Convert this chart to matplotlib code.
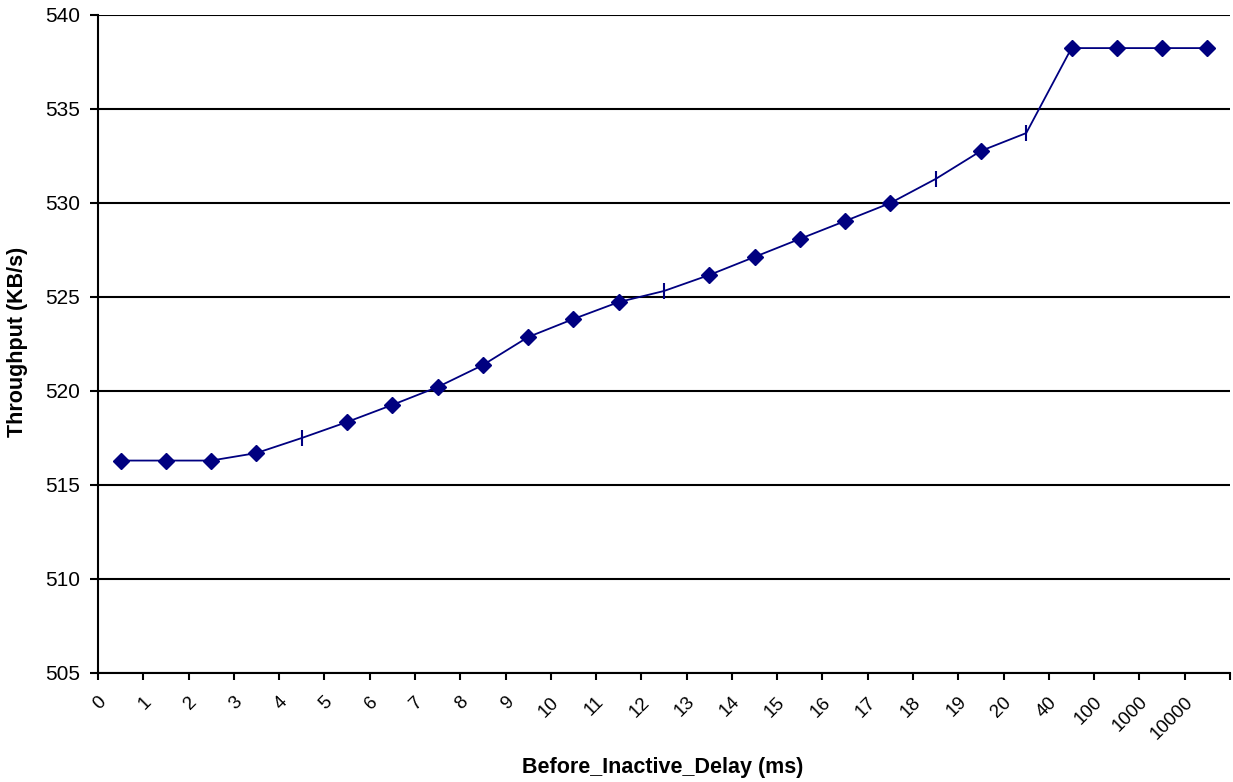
import matplotlib
matplotlib.use("Agg")
import matplotlib.pyplot as plt
from matplotlib.transforms import ScaledTranslation
import numpy as np

categories = ["0", "1", "2", "3", "4", "5", "6", "7", "8", "9", "10", "11", "12",
              "13", "14", "15", "16", "17", "18", "19", "20", "40", "100", "1000", "10000"]
throughput = [516.3, 516.3, 516.3, 516.7, 517.5, 518.35, 519.26, 520.21, 521.38,
              522.87, 523.83, 524.73, 525.32, 526.17, 527.13, 528.09, 529.04, 530.0,
              531.28, 532.77, 533.72, 538.24, 538.24, 538.24, 538.24]
tick_marker_idx = [4, 12, 18, 20]
y_ticks = [505, 510, 515, 520, 525, 530, 535, 540]

plt.rcParams['font.family'] = ['Liberation Sans', 'DejaVu Sans']
color = '#000080'

fig = plt.figure(figsize=(12.33, 7.82), dpi=100)
ax = fig.add_axes([98/1233, 1 - 673/782, (1230 - 98)/1233, (673 - 15)/782])

n = len(categories)
xs = np.arange(n) + 0.5
ax.plot(xs, throughput, color=color, linewidth=1.3, zorder=3)
dia = [i for i in range(n) if i not in tick_marker_idx]
ax.plot(xs[dia], [throughput[i] for i in dia], linestyle='none', marker='D',
        markersize=8.5, color=color, zorder=4)
ax.plot(xs[tick_marker_idx], [throughput[i] for i in tick_marker_idx], linestyle='none',
        marker='|', markersize=11, markeredgewidth=1.5, color=color, zorder=4)

ax.set_xlim(0, n)
ax.set_ylim(505, 540)
ax.set_yticks(y_ticks)
ax.set_yticklabels([str(v) for v in y_ticks], fontsize=15)
ax.grid(axis='y', color='black', linewidth=1.5)
ax.set_axisbelow(True)

ax.tick_params(axis='x', length=5, width=1.5, pad=12, direction='out')
ax.tick_params(axis='y', length=6, width=1.5, pad=7, direction='out')

ax.set_xticks(np.arange(n + 1))
ax.set_xticklabels(categories + [""], fontsize=13.5, rotation=45, ha='right', va='center',
                   rotation_mode='anchor')
for lbl in ax.get_xticklabels():
    lbl.set_transform(lbl.get_transform() + ScaledTranslation(0.055, -0.03, fig.dpi_scale_trans))

for s in ['top', 'right']:
    ax.spines[s].set_visible(False)
for s in ['left', 'bottom']:
    ax.spines[s].set_linewidth(1.5)

fig.text(18/1233, 1 - 342/782, 'Throughput (KB/s)', fontsize=15.5, fontweight='bold',
         rotation=90, ha='center', va='center')
fig.text(663/1233, 1 - 768/782, 'Before_Inactive_Delay (ms)', fontsize=15.5, fontweight='bold',
         ha='center', va='center')

fig.savefig('out.png', dpi=100)
